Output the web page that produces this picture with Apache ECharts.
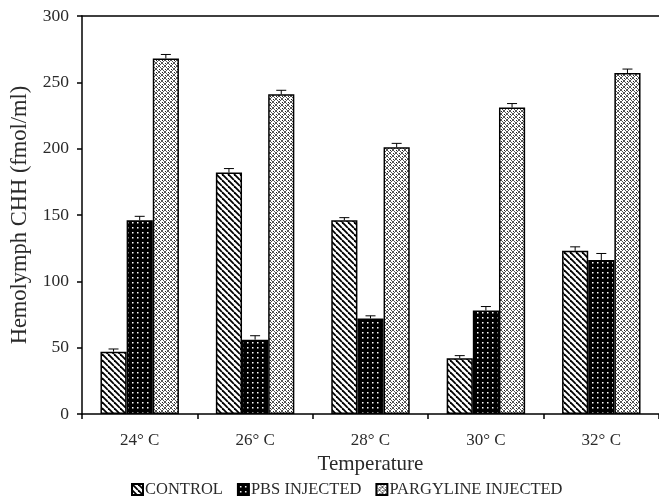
<!DOCTYPE html>
<html>
<head>
<meta charset="utf-8">
<script src="https://cdn.jsdelivr.net/npm/echarts@6/dist/echarts.min.js"></script>
<style>
html,body{margin:0;padding:0;background:#fff}
#chart{width:659px;height:503px}
</style>
</head>
<body>
<div id="chart"></div>
<script>
let temps = ["24° C","26° C","28° C","30° C","32° C"]
let seriesNames = ["CONTROL","PBS INJECTED","PARGYLINE INJECTED"]
let control = [47,182,146,42,123]
let pbs = [146,56,72,78,116]
let pargyline = [268,241,201,231,257]
let controlErr = [2,3,2,2,3]
let pbsErr = [3,3,2,3,5]
let pargylineErr = [3,3,3,3,3]

/** 图案填充 */
function makePattern(kind){
    let c = document.createElement("canvas")
    let ctx = c.getContext("2d")
    if(kind == "stripe"){
        c.width = 6; c.height = 6
        ctx.fillStyle = "#fff"; ctx.fillRect(0,0,6,6)
        ctx.strokeStyle = "#000"; ctx.lineWidth = 1.8
        for(let k=-6;k<=12;k+=6){
            ctx.beginPath(); ctx.moveTo(k,0); ctx.lineTo(k+6,6); ctx.stroke()
        }
    }else if(kind == "dots"){
        c.width = 5; c.height = 5
        ctx.fillStyle = "#000"; ctx.fillRect(0,0,5,5)
        ctx.fillStyle = "#fff"; ctx.fillRect(2,2,1.5,1.5)
    }else{
        c.width = 6; c.height = 6
        ctx.fillStyle = "#fff"; ctx.fillRect(0,0,6,6)
        ctx.strokeStyle = "#555"; ctx.lineWidth = 1
        ctx.beginPath(); ctx.moveTo(0,3); ctx.lineTo(3,0); ctx.lineTo(6,3); ctx.lineTo(3,6); ctx.closePath(); ctx.stroke()
        ctx.fillStyle = "#222"; ctx.fillRect(0,0,1,1); ctx.fillRect(3,3,1,1)
    }
    return {image:c,repeat:"repeat"}
}

let patterns = [makePattern("stripe"),makePattern("dots"),makePattern("lattice")]
let allVals = [control,pbs,pargyline]
let allErrs = [controlErr,pbsErr,pargylineErr]
let gapRatio = 0.32
let font = "Liberation Serif"
let textColor = "#2a2a2a"

let chart = echarts.init(document.getElementById("chart"))

let series = []
seriesNames.forEach((name,i)=>{
    series.push({
        name:name,
        type:"bar",
        data:allVals[i],
        barGap:"0%",
        barCategoryGap:(gapRatio*100)+"%",
        itemStyle:{color:patterns[i],borderColor:"#000",borderWidth:1.5},
        emphasis:{disabled:true}
    })
})
/** 误差线 */
series.push({
    type:"custom",
    silent:true,
    z:5,
    data:temps.map((t,j)=>[j]),
    renderItem:(params,api)=>{
        let j = api.value(0)
        let band = api.size([1,0])[0]
        let w = band*(1-gapRatio)/3
        let children = []
        for(let i=0;i<3;i++){
            let x = api.coord([j,0])[0] + (i-1)*w
            let yTop = api.coord([j,allVals[i][j]])[1]
            let yErr = api.coord([j,allVals[i][j]+allErrs[i][j]])[1]
            children.push({type:"line",shape:{x1:x,y1:yTop,x2:x,y2:yErr},style:{stroke:"#000",lineWidth:1}})
            children.push({type:"line",shape:{x1:x-5,y1:yErr,x2:x+5,y2:yErr},style:{stroke:"#000",lineWidth:1}})
        }
        return {type:"group",children:children}
    }
})

chart.setOption({
    animation:false,
    grid:{left:82,right:-3,top:16,bottom:89},
    legend:{
        bottom:0,
        left:126,
        data:seriesNames,
        icon:"rect",
        itemWidth:11,
        itemHeight:11,
        itemGap:14,
        selectedMode:false,
        textStyle:{fontFamily:font,fontSize:16.5,color:textColor,padding:[0,0,0,-3]}
    },
    xAxis:[{
        type:"category",
        data:temps,
        name:"Temperature",
        nameLocation:"middle",
        nameGap:38,
        nameTextStyle:{fontFamily:font,fontSize:21,color:textColor},
        axisLine:{lineStyle:{color:"#000",width:1.5}},
        axisTick:{show:true,length:5,lineStyle:{color:"#000",width:1.5}},
        axisLabel:{fontFamily:font,fontSize:17,color:textColor,margin:18}
    },{
        type:"category",
        data:temps,
        position:"top",
        axisLine:{lineStyle:{color:"#000",width:1.5}},
        axisTick:{show:false},
        axisLabel:{show:false}
    }],
    yAxis:{
        type:"value",
        min:0,
        max:300,
        interval:50,
        name:"Hemolymph CHH (fmol/ml)",
        nameLocation:"middle",
        nameGap:49,
        nameTextStyle:{fontFamily:font,fontSize:22.5,color:textColor},
        axisLine:{show:true,lineStyle:{color:"#000",width:1.5}},
        axisTick:{show:true,length:5,lineStyle:{color:"#000",width:1.5}},
        axisLabel:{fontFamily:font,fontSize:17.5,color:textColor,margin:13},
        splitLine:{show:false}
    },
    series:series
})
</script>
</body>
</html>
